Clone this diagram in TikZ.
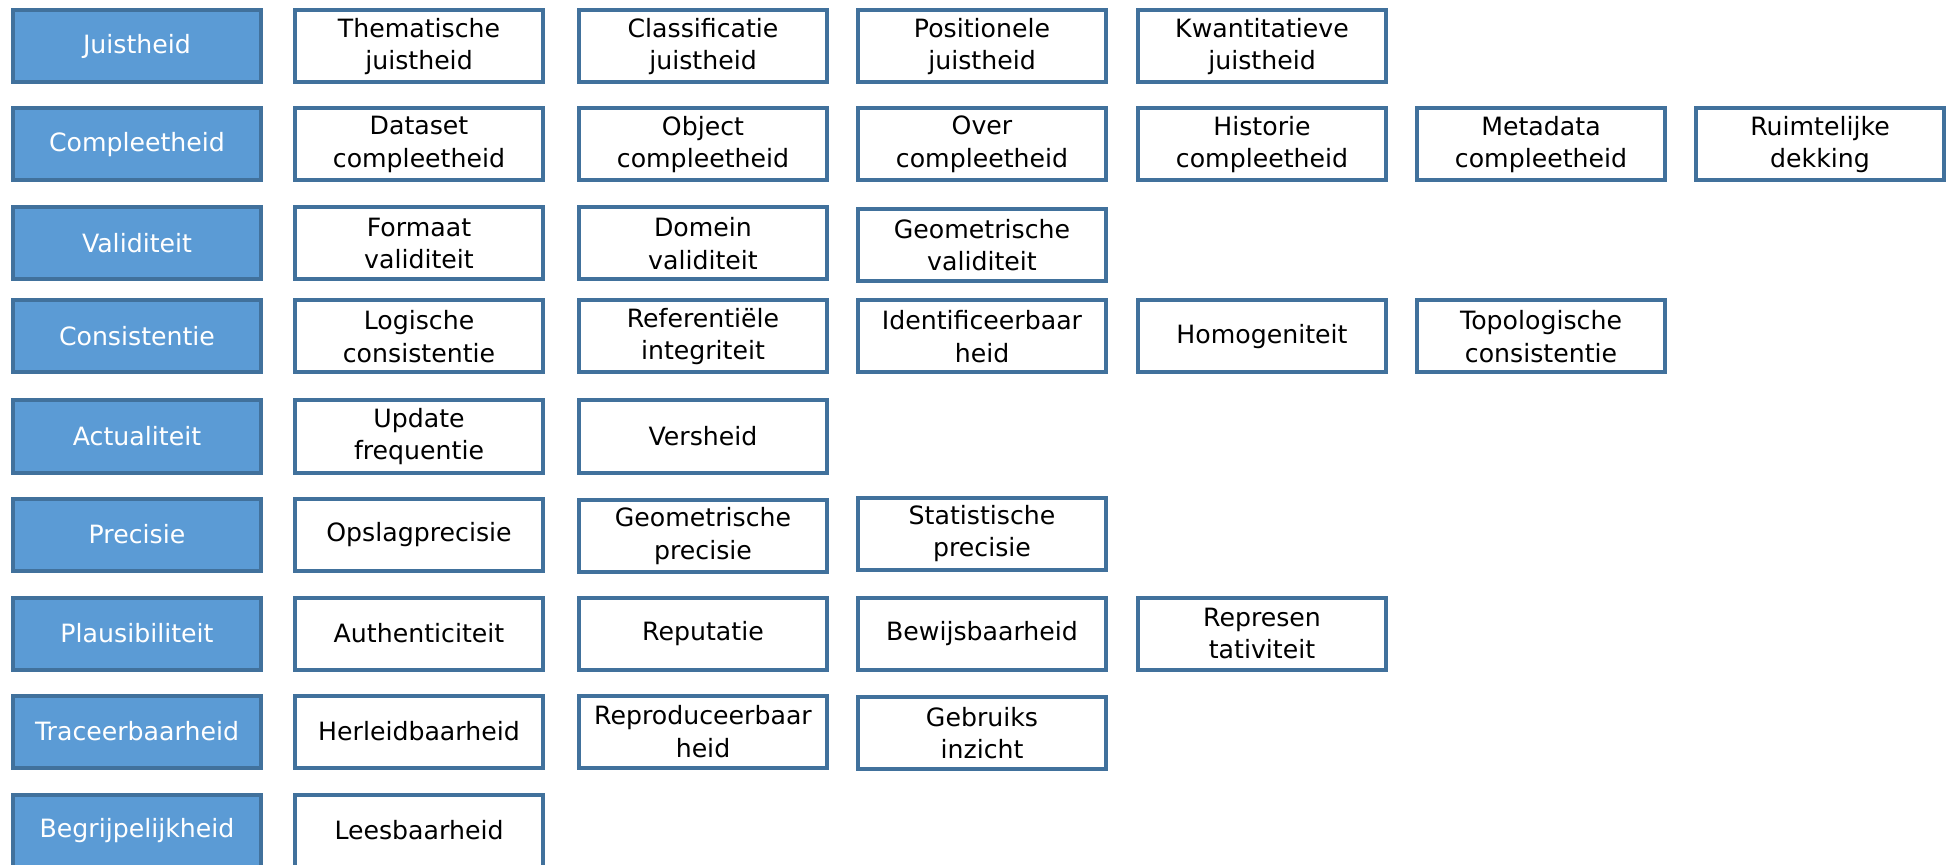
\documentclass[tikz,border=0pt]{standalone}
\usepackage{fontspec}
\setmainfont{DejaVu Sans}
\usepackage{tikz}
\definecolor{kopblauw}{HTML}{5B9BD5}
\definecolor{randblauw}{HTML}{41719C}
\tikzset{every node/.style={rectangle, draw=randblauw, line width=2pt, minimum width=124pt, minimum height=36pt, inner sep=0pt, align=center, font=\fontsize{12.6}{16.3}\selectfont}}
\tikzset{kop/.style={fill=kopblauw, text=white}}
\tikzset{sub/.style={fill=white, text=black}}

\begin{document}
\begin{tikzpicture}[x=0.5pt, y=-0.5pt]
\useasboundingbox (0,0) rectangle (1946,865);
\node[kop] (R0C0) at (137,46.5) {Juistheid};
\node[sub] (R0C1) at (419,46.5) {Thematische\\juistheid};
\node[sub] (R0C2) at (703,46.5) {Classificatie\\juistheid};
\node[sub] (R0C3) at (982,46.5) {Positionele\\juistheid};
\node[sub] (R0C4) at (1262,46.5) {Kwantitatieve\\juistheid};
\node[kop] (R1C0) at (137,144.5) {Compleetheid};
\node[sub] (R1C1) at (419,144.5) {Dataset\\compleetheid};
\node[sub] (R1C2) at (703,144.5) {Object\\compleetheid};
\node[sub] (R1C3) at (982,144.5) {Over\\compleetheid};
\node[sub] (R1C4) at (1262,144.5) {Historie\\compleetheid};
\node[sub] (R1C5) at (1541,144.5) {Metadata\\compleetheid};
\node[sub] (R1C6) at (1820,144.5) {Ruimtelijke\\dekking};
\node[kop] (R2C0) at (137,243.5) {Validiteit};
\node[sub] (R2C1) at (419,243.5) {Formaat\\validiteit};
\node[sub] (R2C2) at (703,243.5) {Domein\\validiteit};
\node[sub] (R2C3) at (982,245) {Geometrische\\validiteit};
\node[kop] (R3C0) at (137,336.5) {Consistentie};
\node[sub] (R3C1) at (419,336.5) {Logische\\consistentie};
\node[sub] (R3C2) at (703,336.5) {Referentiële\\integriteit};
\node[sub] (R3C3) at (982,336.5) {Identificeerbaar\\heid};
\node[sub] (R3C4) at (1262,336.5) {Homogeniteit};
\node[sub] (R3C5) at (1541,336.5) {Topologische\\consistentie};
\node[kop] (R4C0) at (137,436.5) {Actualiteit};
\node[sub] (R4C1) at (419,436.5) {Update\\frequentie};
\node[sub] (R4C2) at (703,436.5) {Versheid};
\node[kop] (R5C0) at (137,534.5) {Precisie};
\node[sub] (R5C1) at (419,534.5) {Opslagprecisie};
\node[sub] (R5C2) at (703,536) {Geometrische\\precisie};
\node[sub] (R5C3) at (982,533.5) {Statistische\\precisie};
\node[kop] (R6C0) at (137,633.5) {Plausibiliteit};
\node[sub] (R6C1) at (419,633.5) {Authenticiteit};
\node[sub] (R6C2) at (703,633.5) {Reputatie};
\node[sub] (R6C3) at (982,633.5) {Bewijsbaarheid};
\node[sub] (R6C4) at (1262,633.5) {Represen\\tativiteit};
\node[kop] (R7C0) at (137,731.5) {Traceerbaarheid};
\node[sub] (R7C1) at (419,731.5) {Herleidbaarheid};
\node[sub] (R7C2) at (703,731.5) {Reproduceerbaar\\heid};
\node[sub] (R7C3) at (982,733) {Gebruiks\\inzicht};
\node[kop] (R8C0) at (137,830.5) {Begrijpelijkheid};
\node[sub] (R8C1) at (419,830.5) {Leesbaarheid};
\end{tikzpicture}
\end{document}
